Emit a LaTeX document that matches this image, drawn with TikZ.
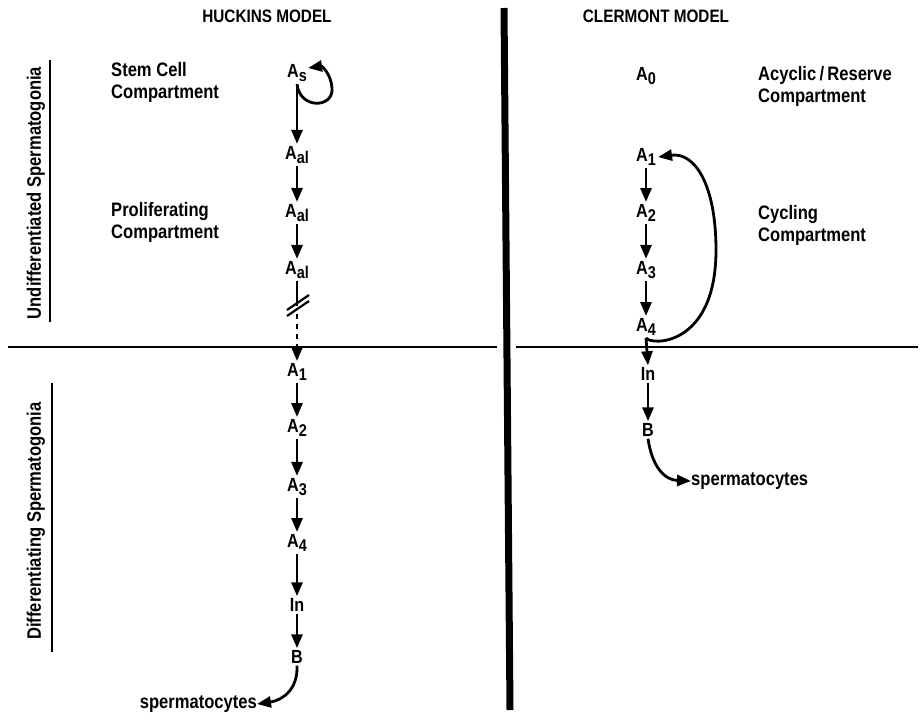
\documentclass[tikz,border=0pt]{standalone}
\usepackage{fontspec}
\setmainfont{Liberation Sans}[FakeStretch=0.85]
\usetikzlibrary{arrows.meta,calc}
\newcommand\sbs[1]{\raisebox{-0.45ex}{\fontsize{17}{17}\selectfont #1}}
\tikzset{
  cell/.style={font=\fontsize{19}{22}\selectfont\bfseries, inner sep=2pt},
  lbl/.style={font=\fontsize{19.5}{22}\selectfont\bfseries, inner sep=0pt, align=left},
  head/.style={font=\fontsize{18}{20}\selectfont\bfseries, inner sep=0pt},
  side/.style={font=\fontsize{19.5}{21}\selectfont\bfseries, inner sep=0pt, rotate=90},
  flow/.style={line width=2.8pt, -{Triangle[length=14pt,width=11pt]}},
  rule/.style={line width=2.6pt}
}
\begin{document}
\begin{tikzpicture}[x=1pt,y=-1pt]
\useasboundingbox (0,0) rectangle (923,720);

% frame: dividing lines
\draw[line width=7pt] (504,8) -- (510,710);
\draw[rule] (8,347) -- (497,347);
\draw[rule] (516,347) -- (918,347);

% headings
\node[head] (hHead) at (267,16) {HUCKINS MODEL};
\node[head] (cHead) at (656,16) {CLERMONT MODEL};

% side labels with their underlines
\node[side] (sUnd) at (36,193) {Undifferentiated Spermatogonia};
\draw[line width=2pt] (50,60) -- (50,322);
\node[side] (sDif) at (36,521) {Differentiating Spermatogonia};
\draw[line width=2pt] (52,383) -- (52,652);

% compartment labels
\node[lbl,anchor=west] (lStem) at (111,82) {Stem Cell\\Compartment};
\node[lbl,anchor=west] (lProl) at (111,222) {Proliferating\\Compartment};
\node[lbl,anchor=west] (lAcyc) at (758,86) {Acyclic\,/\,Reserve\\Compartment};
\node[lbl,anchor=west] (lCyc) at (758,225) {Cycling\\Compartment};

% Huckins model chain
\node[cell] (hAs) at (297,73) {A\sbs{s}};
\node[cell] (hAa) at (297,155) {A\sbs{al}};
\node[cell] (hAb) at (297,213) {A\sbs{al}};
\node[cell] (hAc) at (297,270) {A\sbs{al}};
\node[cell] (hA1) at (297,372) {A\sbs{1}};
\node[cell] (hA2) at (297,428) {A\sbs{2}};
\node[cell] (hA3) at (297,487) {A\sbs{3}};
\node[cell] (hA4) at (297,543) {A\sbs{4}};
\node[cell] (hIn) at (297,605) {In};
\node[cell] (hB)  at (297,657) {B};
\node[lbl,anchor=east] (hSp) at (257,704) {spermatocytes};

\draw[flow] (hAs.south) -- (hAa.north);
\draw[flow] (hAa.south) -- (hAb.north);
\draw[flow] (hAb.south) -- (hAc.north);
\draw[flow] (hA1.south) -- (hA2.north);
\draw[flow] (hA2.south) -- (hA3.north);
\draw[flow] (hA3.south) -- (hA4.north);
\draw[flow] (hA4.south) -- (hIn.north);
\draw[flow] (hIn.south) -- (hB.north);

% self-renewal loop of A_s
\draw[flow] (hAs.south) .. controls (300,110) and (334,108) .. (332,88)
  .. controls (331,74) and (322,66) .. ($(hAs.east)+(-1,-5)$);

% interrupted link into A_1
\coordinate (hBreak) at (297,306);
\draw[line width=2.8pt] (hAc.south) -- (hBreak);
\draw[line width=2.2pt] (287,310) -- (309,295);
\draw[line width=2.2pt] (287,316) -- (309,301);
\draw[flow,dash pattern=on 5pt off 5pt] ($(hBreak)+(0,8)$) -- (hA1.north);

% exit to spermatocytes
\draw[flow] (hB.south) .. controls (298,688) and (284,700) .. (hSp.east);

% Clermont model chain
\node[cell] (cA0) at (646,76) {A\sbs{0}};
\node[cell] (cA1) at (646,157) {A\sbs{1}};
\node[cell] (cA2) at (646,213) {A\sbs{2}};
\node[cell] (cA3) at (646,270) {A\sbs{3}};
\node[cell] (cA4) at (646,327) {A\sbs{4}};
\node[cell] (cIn) at (648,374) {In};
\node[cell] (cB)  at (648,430) {B};
\node[lbl,anchor=west] (cSp) at (691,481) {spermatocytes};

\draw[flow] (cA1.south) -- (cA2.north);
\draw[flow] (cA2.south) -- (cA3.north);
\draw[flow] (cA3.south) -- (cA4.north);
\draw[flow] (cA4.south) -- (cIn.north);
\draw[flow] (cIn.south) -- (cB.north);

% cycling loop from A_4 back to A_1
\draw[flow] (cA4.south) .. controls (652,346) and (716,346) .. (716,250)
  .. controls (716,185) and (695,152) .. (cA1.east);

% exit to spermatocytes
\draw[flow] (cB.south) .. controls (652,466) and (664,480) .. (cSp.west);
\end{tikzpicture}
\end{document}
